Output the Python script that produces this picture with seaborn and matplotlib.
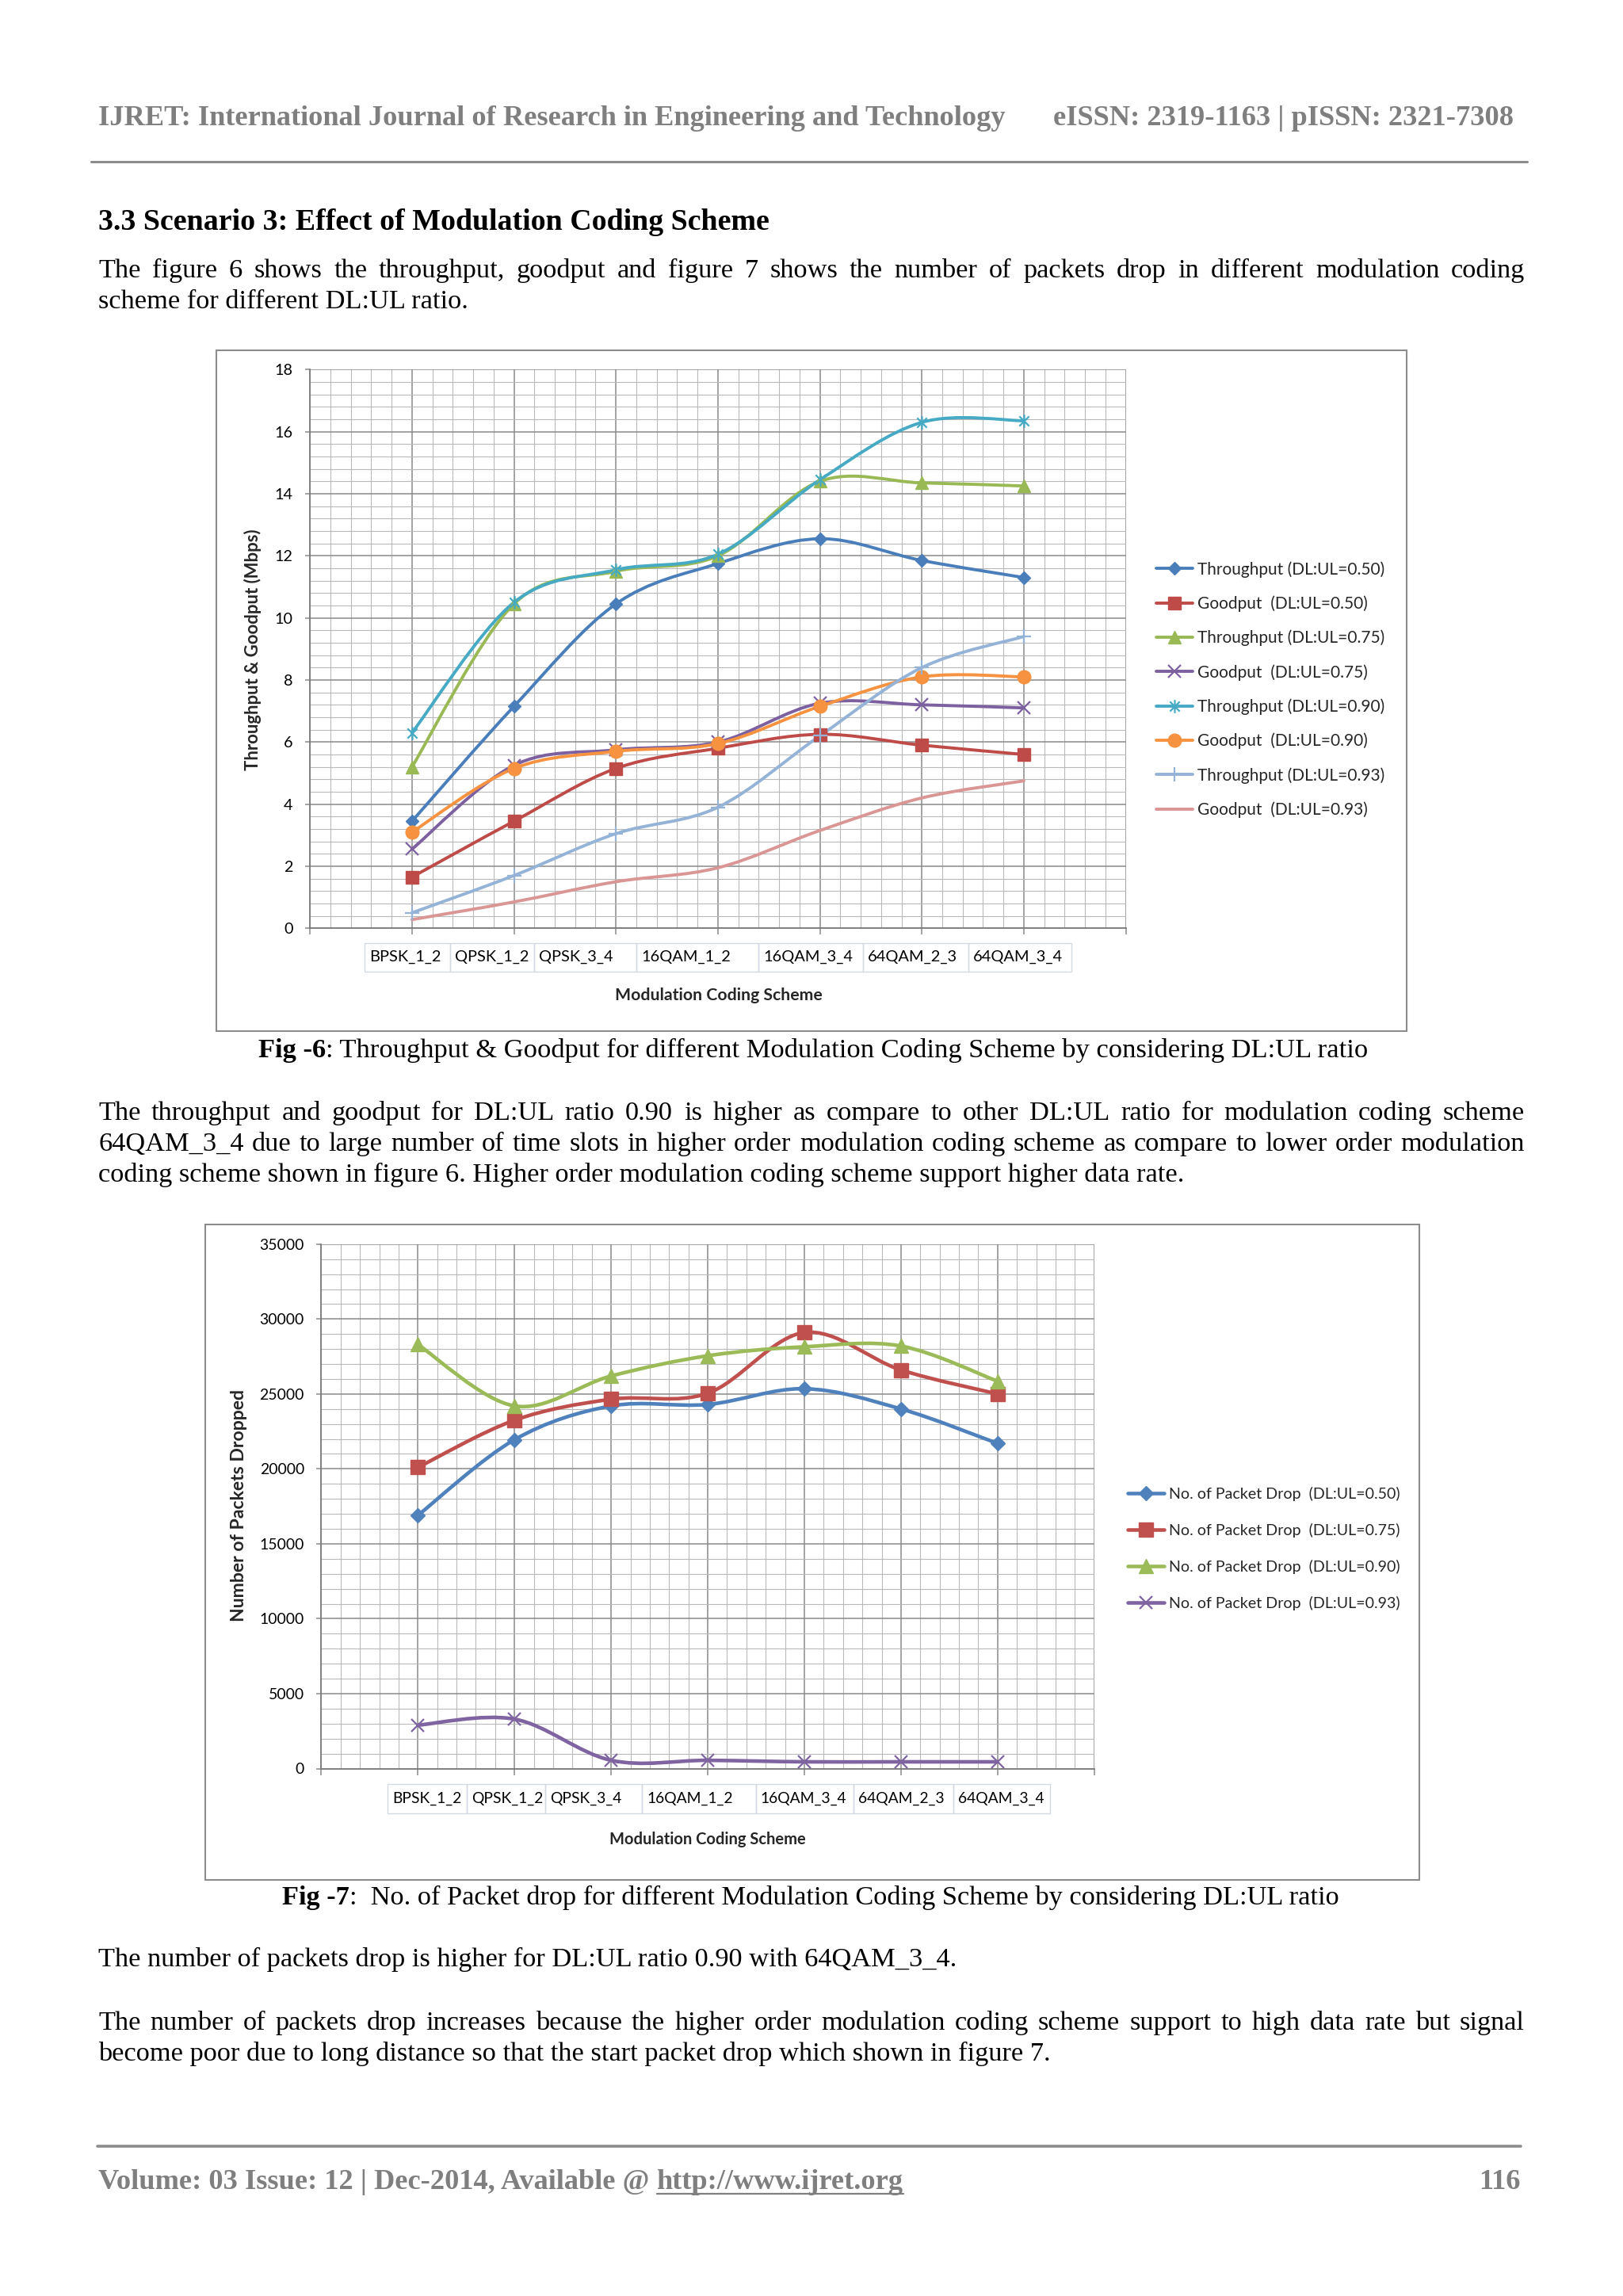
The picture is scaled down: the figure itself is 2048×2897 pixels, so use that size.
import numpy as np
import pandas as pd
import seaborn as sns
import matplotlib
matplotlib.use("Agg")
import matplotlib.pyplot as plt
import matplotlib.transforms as mtransforms
from matplotlib.font_manager import FontProperties
from matplotlib.lines import Line2D
from matplotlib.path import Path
from matplotlib.patches import PathPatch, Rectangle

W, H, DPI = 2048, 2897, 100
SERIF = "Liberation Serif"
SANS = "Lato"

# ---- data ----
schemes = ["BPSK_1_2", "QPSK_1_2", "QPSK_3_4", "16QAM_1_2", "16QAM_3_4", "64QAM_2_3", "64QAM_3_4"]

thr_050 = [3.45, 7.15, 10.45, 11.75, 12.55, 11.85, 11.3]
good_050 = [1.65, 3.45, 5.15, 5.8, 6.25, 5.9, 5.6]
thr_075 = [5.2, 10.45, 11.5, 12.0, 14.4, 14.35, 14.25]
good_075 = [2.55, 5.25, 5.75, 6.0, 7.25, 7.2, 7.1]
thr_090 = [6.3, 10.5, 11.55, 12.05, 14.45, 16.3, 16.35]
good_090 = [3.1, 5.15, 5.7, 5.95, 7.15, 8.1, 8.1]
thr_093 = [0.5, 1.7, 3.05, 3.9, 6.2, 8.4, 9.4]
good_093 = [0.28, 0.85, 1.5, 1.95, 3.15, 4.2, 4.75]

labels1 = ["Throughput (DL:UL=0.50)", "Goodput  (DL:UL=0.50)",
           "Throughput (DL:UL=0.75)", "Goodput  (DL:UL=0.75)",
           "Throughput (DL:UL=0.90)", "Goodput  (DL:UL=0.90)",
           "Throughput (DL:UL=0.93)", "Goodput  (DL:UL=0.93)"]
values1 = [thr_050, good_050, thr_075, good_075, thr_090, good_090, thr_093, good_093]

drop_050 = [16900, 21950, 24200, 24300, 25350, 24000, 21700]
drop_075 = [20100, 23250, 24650, 25050, 29100, 26600, 25000]
drop_090 = [28300, 24200, 26200, 27550, 28150, 28200, 25850]
drop_093 = [2900, 3300, 550, 550, 450, 450, 450]

labels2 = ["No. of Packet Drop  (DL:UL=0.50)", "No. of Packet Drop  (DL:UL=0.75)",
           "No. of Packet Drop  (DL:UL=0.90)", "No. of Packet Drop  (DL:UL=0.93)"]
values2 = [drop_050, drop_075, drop_090, drop_093]

# ---- styles ----
STAR = Path([(-1, -1), (1, 1), (-1, 1), (1, -1), (0, -1.35), (0, 1.35)],
            [Path.MOVETO, Path.LINETO, Path.MOVETO, Path.LINETO, Path.MOVETO, Path.LINETO])
colors1 = ["#4A7EBB", "#BE4B48", "#98B954", "#7D60A0", "#46AAC5", "#F69240", "#95B3D7", "#D99694"]
markers1 = ["D", "s", "^", "x", STAR, "o", "+", None]
msizes1 = [8, 12, 12, 11, 12, 12, 13, 0]
colors2 = ["#4F81BD", "#C0504D", "#9BBB59", "#8064A2"]
markers2 = ["D", "s", "^", "x"]
msizes2 = [9, 13, 13, 12]
LINE_MARKERS = ("x", "+")

# cell edges of the category "table" under each x axis (x in data units, y in axes fraction)
cells1 = [0.537, 1.371, 2.194, 3.2, 4.4, 5.423, 6.457, 7.469]
cells2 = [0.684, 1.507, 2.317, 3.319, 4.496, 5.51, 6.543, 7.539]

GRID_MAJOR = "#8A8A8A"
GRID_MINOR = "#B9B9B9"
BOX = "#8C8C8C"
CELL_EDGE = "#D3DAE4"
GRAY_TXT = "#7F7F7F"

sns.set_theme(style="white")
plt.rcParams["font.family"] = [SANS, "DejaVu Sans"]

fig = plt.figure(figsize=(W / DPI, H / DPI), dpi=DPI)
fig.patch.set_facecolor("white")
renderer = fig.canvas.get_renderer()


def fx(px):
    return px / W


def fy(py):
    return 1 - py / H


def text_w(s, family, size, weight="normal"):
    fp = FontProperties(family=family, size=size, weight=weight)
    return renderer.get_text_width_height_descent(s, fp, ismath=False)[0]


def text_h(s, family, size, weight="normal"):
    fp = FontProperties(family=family, size=size, weight=weight)
    h1 = renderer.get_text_width_height_descent(s, fp, ismath=False)[1]
    h2 = renderer.get_text_width_height_descent("lp", fp, ismath=False)[1]
    return max(h1, h2)


def fit(s, width, family, weight="normal"):
    return 20 * width / text_w(s, family, 20, weight)


def smooth_path(xs, ys):
    # Excel style smoothed line drawn as cubic bezier segments through the points
    pts = np.column_stack([xs, ys]).astype(float)
    verts = [pts[0]]
    codes = [Path.MOVETO]
    n = len(pts)
    for i in range(n - 1):
        p0 = pts[i - 1] if i > 0 else pts[i]
        p1, p2 = pts[i], pts[i + 1]
        p3 = pts[i + 2] if i + 2 < n else pts[i + 1]
        verts += [p1 + (p2 - p0) / 6, p2 - (p3 - p1) / 6, p2]
        codes += [Path.CURVE4] * 3
    return Path(verts, codes)


positions = np.arange(1, len(schemes) + 1)


def plot_chart(ax, values, colors, markers, sizes, lw):
    for vals, c, m, ms in zip(values, colors, markers, sizes):
        ax.add_patch(PathPatch(smooth_path(positions, vals), facecolor="none", edgecolor=c,
                               lw=lw, capstyle="round", joinstyle="round", zorder=3))
        if m is None:
            continue
        df = pd.DataFrame({"pos": positions, "value": vals})
        mew = 1.6 if (isinstance(m, str) and m in LINE_MARKERS) or m is STAR else 1.0
        sns.lineplot(data=df, x="pos", y="value", ax=ax, color=c, marker=m, markersize=ms,
                     linestyle="", markeredgecolor=c, markeredgewidth=mew, legend=False, zorder=4)
    ax.set_xlabel("")
    ax.set_ylabel("")


def style_axes(ax, ymax, ymajor, yminor, ysize):
    ax.set_xlim(0, 8)
    ax.set_ylim(0, ymax)
    ax.set_xticks(range(9))
    ax.set_xticks(np.arange(0, 8.001, 0.2), minor=True)
    ax.set_yticks(np.arange(0, ymax + 1e-9, ymajor))
    ax.set_yticks(np.arange(0, ymax + 1e-9, yminor), minor=True)
    ax.set_xticklabels([])
    ax.grid(which="major", color=GRID_MAJOR, lw=1.1)
    ax.grid(which="minor", color=GRID_MINOR, lw=0.8)
    ax.set_axisbelow(True)
    ax.tick_params(axis="x", which="major", direction="out", bottom=True, length=5.5,
                   width=1.1, color=GRID_MAJOR)
    ax.tick_params(axis="y", which="major", direction="out", left=True, length=4,
                   width=1.1, color=GRID_MAJOR, pad=11.5, labelsize=ysize, labelcolor="black")
    ax.tick_params(which="minor", length=0)
    for side in ("top", "right"):
        ax.spines[side].set_visible(False)
    for side in ("left", "bottom"):
        ax.spines[side].set_color("#7A7A7A")
        ax.spines[side].set_linewidth(1.3)
    ax.set_facecolor("white")


def draw_cells(ax, edges, ytop, ybot, size):
    blend = ax.get_xaxis_transform()
    tpad = mtransforms.offset_copy(blend, fig=fig, x=6, y=0, units="dots")
    for i, lab in enumerate(schemes):
        x0, x1 = edges[i], edges[i + 1]
        ax.add_patch(Rectangle((x0, ybot), x1 - x0, ytop - ybot, transform=blend, fill=False,
                               edgecolor=CELL_EDGE, lw=1.0, clip_on=False))
        ax.text(x0, (ytop + ybot) / 2, lab, transform=tpad, ha="left", va="center",
                fontsize=size, family=SANS, color="black", clip_on=False)


def add_legend(labels, colors, markers, sizes, lw, x_left, y_mid, pitch, label_w):
    fs = fit(labels[0], label_w, SANS)
    fs_px = fs * DPI / 72
    h = text_h(labels[0], SANS, fs)
    handles = []
    for c, m, ms in zip(colors, markers, sizes):
        mew = 1.6 if (isinstance(m, str) and m in LINE_MARKERS) or m is STAR else 1.0
        handles.append(Line2D([0], [0], color=c, lw=lw, marker=m if m is not None else "",
                              markersize=ms, markeredgecolor=c, markerfacecolor=c,
                              markeredgewidth=mew))
    fig.legend(handles, labels, loc="center left", bbox_to_anchor=(fx(x_left), fy(y_mid)),
               frameon=False, borderpad=0, borderaxespad=0,
               handlelength=(46 / 1.389) / fs, handletextpad=(6 / 1.389) / fs,
               labelspacing=max(pitch - h, 0) / fs_px,
               prop=FontProperties(family=SANS, size=fs))


# ---- chart 1: throughput & goodput ----
fig.add_artist(Rectangle((fx(273), fy(1301)), (1775 - 273) / W, (1301 - 442) / H,
                         transform=fig.transFigure, fill=False, edgecolor=BOX, lw=1.5))
ax1 = fig.add_axes([fx(391.2), fy(1171.3), (1420.6 - 391.2) / W, (1171.3 - 466.3) / H])
plot_chart(ax1, values1, colors1, markers1, msizes1, 2.8)
style_axes(ax1, 18, 2, 0.4, fit("18", 23, SANS))
draw_cells(ax1, cells1, -0.026, -0.077, fit("BPSK_1_2", 90, SANS))
fig.text(fx(907), fy(1256), "Modulation Coding Scheme", ha="center", va="center",
         family=SANS, weight="bold", fontsize=fit("Modulation Coding Scheme", 262, SANS, "bold"))
fig.text(fx(319), fy(820), "Throughput & Goodput (Mbps)", ha="center", va="center", rotation=90,
         family=SANS, weight="bold", fontsize=fit("Throughput & Goodput (Mbps)", 305, SANS, "bold"))
add_legend(labels1, colors1, markers1, msizes1, 2.8, 1459, 870, 43.3, 236)

# ---- chart 2: packets dropped ----
fig.add_artist(Rectangle((fx(259), fy(2372)), (1791 - 259) / W, (2372 - 1545) / H,
                         transform=fig.transFigure, fill=False, edgecolor=BOX, lw=1.5))
ax2 = fig.add_axes([fx(405.4), fy(2231.5), (1380.8 - 405.4) / W, (2231.5 - 1569.8) / H])
plot_chart(ax2, values2, colors2, markers2, msizes2, 3.3)
style_axes(ax2, 35000, 5000, 1000, fit("35000", 56, SANS))
draw_cells(ax2, cells2, -0.0296, -0.0856, fit("BPSK_1_2", 87, SANS))
fig.text(fx(893), fy(2321), "Modulation Coding Scheme", ha="center", va="center",
         family=SANS, weight="bold", fontsize=fit("Modulation Coding Scheme", 248, SANS, "bold"))
fig.text(fx(301), fy(1899), "Number of Packets Dropped", ha="center", va="center", rotation=90,
         family=SANS, weight="bold", fontsize=fit("Number of Packets Dropped", 293, SANS, "bold"))
add_legend(labels2, colors2, markers2, msizes2, 3.3, 1423, 1954, 46, 292)

# ---- page text ----
header_left = "IJRET: International Journal of Research in Engineering and Technology"
header_right = "eISSN: 2319-1163 | pISSN: 2321-7308"
heading = "3.3 Scenario 3: Effect of Modulation Coding Scheme"
para1 = ["The figure 6 shows the throughput, goodput and figure 7 shows the number of packets drop in different modulation coding",
         "scheme for different DL:UL ratio."]
caption1 = ("Fig -6", ": Throughput & Goodput for different Modulation Coding Scheme by considering DL:UL ratio")
para2 = ["The throughput and goodput for DL:UL ratio 0.90 is higher as compare to other DL:UL ratio for modulation coding scheme",
         "64QAM_3_4 due to large number of time slots in higher order modulation coding scheme as compare to lower order modulation",
         "coding scheme shown in figure 6. Higher order modulation coding scheme support higher data rate."]
caption2 = ("Fig -7", ":  No. of Packet drop for different Modulation Coding Scheme by considering DL:UL ratio")
para3 = "The number of packets drop is higher for DL:UL ratio 0.90 with 64QAM_3_4."
para4 = ["The number of packets drop increases  because the higher order modulation coding scheme support to  high data rate but signal",
         "become poor due to long distance so that the start packet drop which shown in figure 7."]
footer_left = "Volume: 03 Issue: 12 | Dec-2014, Available @"
footer_url = "http://www.ijret.org"
footer_right = "116"

LEFT, RIGHT = 124, 1924


def put(s, x, y, size, weight="normal", color="black", ha="left"):
    fig.text(fx(x), fy(y), s, fontsize=size, fontweight=weight, color=color, ha=ha,
             va="baseline", family=SERIF)


def put_justified(s, y, size):
    words = s.split()
    widths = [text_w(w, SERIF, size) for w in words]
    gap = (RIGHT - LEFT - sum(widths)) / (len(words) - 1)
    x = LEFT
    for w, wd in zip(words, widths):
        put(w, x, y, size)
        x += wd + gap


def put_caption(parts, x0, x1, y):
    bold, rest = parts
    size = 20 * (x1 - x0) / (text_w(bold, SERIF, 20, "bold") + text_w(rest, SERIF, 20))
    wb = text_w(bold, SERIF, size, "bold")
    put(bold, x0, y, size, "bold")
    put(rest, x0 + wb, y, size)


body = np.mean([fit(para2[2], 1370, SERIF), fit(para4[1], 1202, SERIF), fit(para3, 1084, SERIF)])

hsize = fit(header_left, 1142, SERIF, "bold")
put(header_left, LEFT, 158, hsize, "bold", GRAY_TXT)
put(header_right, 1910, 158, hsize, "bold", GRAY_TXT, ha="right")
fig.add_artist(Line2D([fx(115), fx(1927)], [fy(204), fy(204)], color="#8C8C8C", lw=2.2))

put(heading, LEFT, 290, fit(heading, 846, SERIF, "bold"), "bold")
put_justified(para1[0], 350, body)
put(para1[1], LEFT, 389, body)

put_caption(caption1, 326, 1722, 1334)

put_justified(para2[0], 1413, body)
put_justified(para2[1], 1452, body)
put(para2[2], LEFT, 1491, body)

put_caption(caption2, 356, 1690, 2403)

put(para3, LEFT, 2481, body)
put_justified(para4[0], 2561, body)
put(para4[1], LEFT, 2600, body)

fig.add_artist(Line2D([fx(123), fx(1919)], [fy(2708), fy(2708)], color="#8C8C8C", lw=2.6))
space = text_w("a a", SERIF, 20, "bold") - text_w("aa", SERIF, 20, "bold")
fsize = 20 * 1016 / (text_w(footer_left, SERIF, 20, "bold") + space + text_w(footer_url, SERIF, 20, "bold"))
space = space * fsize / 20
put(footer_left, LEFT, 2762, fsize, "bold", GRAY_TXT)
ux = LEFT + text_w(footer_left, SERIF, fsize, "bold") + space
uw = text_w(footer_url, SERIF, fsize, "bold")
put(footer_url, ux, 2762, fsize, "bold", GRAY_TXT)
fig.add_artist(Line2D([fx(ux), fx(ux + uw)], [fy(2768), fy(2768)], color=GRAY_TXT, lw=1.6))
put(footer_right, 1919, 2762, fsize, "bold", GRAY_TXT, ha="right")

fig.savefig("out.png", dpi=DPI)
plt.close(fig)
